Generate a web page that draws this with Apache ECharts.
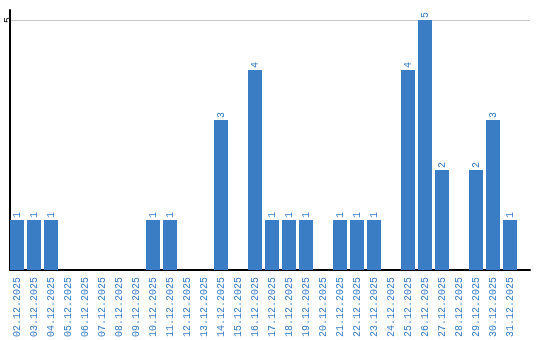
<!DOCTYPE html>
<html><head><meta charset="utf-8">
<script src="https://cdn.jsdelivr.net/npm/echarts@6/dist/echarts.min.js"></script>
<style>html,body{margin:0;padding:0;background:#fff}#c{width:540px;height:340px}</style>
</head><body><div id="c"></div>
<script>
const categories = ["02.12.2025","03.12.2025","04.12.2025","05.12.2025","06.12.2025","07.12.2025","08.12.2025","09.12.2025","10.12.2025","11.12.2025","12.12.2025","13.12.2025","14.12.2025","15.12.2025","16.12.2025","17.12.2025","18.12.2025","19.12.2025","20.12.2025","21.12.2025","22.12.2025","23.12.2025","24.12.2025","25.12.2025","26.12.2025","27.12.2025","28.12.2025","29.12.2025","30.12.2025","31.12.2025"];
const values = [1,1,1,0,0,0,0,0,1,1,0,0,3,0,4,1,1,1,0,1,1,1,0,4,5,2,0,2,3,1];
const yTicks = [5];
const yMax = 5.2;

const FONT = 'Liberation Mono';
const BLUE_TXT = '#3a7dc3';

const chart = echarts.init(document.getElementById('c'), null, {renderer:'canvas'});
chart.setOption({
  animation:false,
  grid:[
    {left:8.5, top:10, width:510, bottom:70, containLabel:false},
    {left:10, top:10, right:10, bottom:70, containLabel:false}
  ],
  xAxis:[{
    gridIndex:0, type:'category', data:categories,
    axisLine:{show:false}, axisTick:{show:false},
    axisLabel:{rotate:90, interval:0, color:BLUE_TXT, fontFamily:FONT, fontSize:10, margin:7}
  },{
    gridIndex:1, type:'value', min:0, max:1,
    axisLine:{show:true, lineStyle:{color:'#000', width:2}},
    axisTick:{show:false}, axisLabel:{show:false}, splitLine:{show:false}
  }],
  yAxis:[{
    gridIndex:0, type:'value', min:0, max:yMax, show:false
  },{
    gridIndex:1, type:'value', min:0, max:yMax, interval:5,
    axisLine:{show:true, lineStyle:{color:'#000', width:2}},
    axisTick:{show:false},
    splitLine:{show:true, showMinLine:false, showMaxLine:false, lineStyle:{color:'#c8c8c8', width:1}},
    axisLabel:{rotate:90, color:'#000', fontFamily:FONT, fontSize:10, margin:2, verticalAlign:'middle',
      formatter:v => yTicks.includes(v) ? String(v) : ''}
  }],
  series:[{
    type:'bar', xAxisIndex:0, yAxisIndex:0,
    data:values.map(v => v === 0 ? null : v), barWidth:14,
    itemStyle:{color:'#3b7dc4'},
    label:{show:true, position:'top', rotate:90, align:'left', verticalAlign:'middle', distance:2,
      color:BLUE_TXT, fontFamily:FONT, fontSize:10}
  }]
});
</script></body></html>
